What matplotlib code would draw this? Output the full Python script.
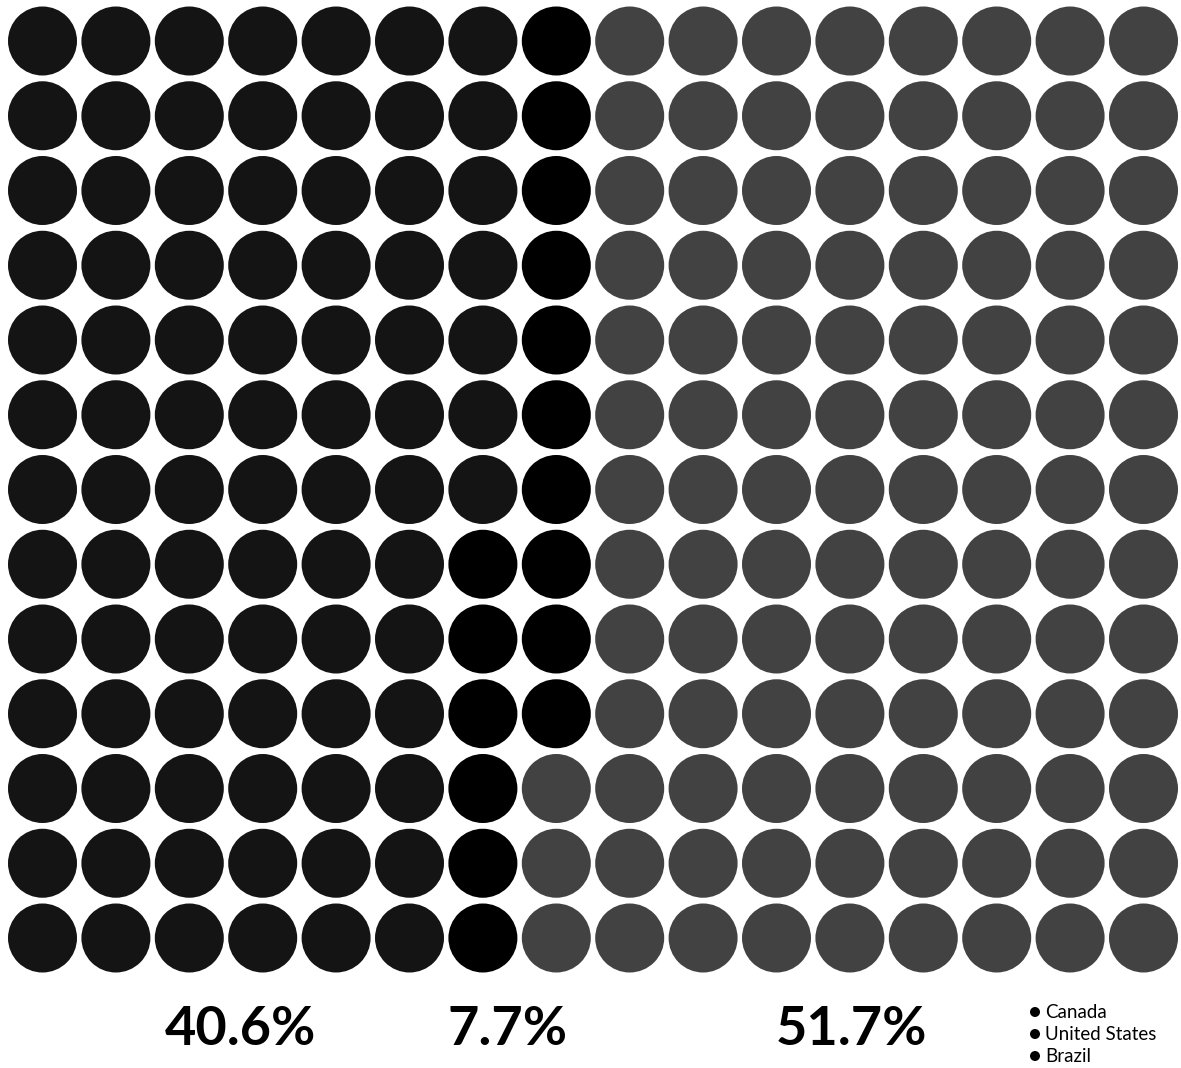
import matplotlib
matplotlib.use("Agg")
import matplotlib.pyplot as plt
from matplotlib.patches import Circle

# data
countries = ["Canada", "United States", "Brazil"]
shares = ["40.6%", "7.7%", "51.7%"]
dot_counts = [85, 16, 107]
colors = ["#141414", "#000000", "#424242"]

n_rows = 13
n_cols = 16

W, H = 1181, 1068
fig = plt.figure(figsize=(W / 100, H / 100), dpi=100)
ax = fig.add_axes([0, 0, 1, 1])
ax.set_xlim(0, W)
ax.set_ylim(H, 0)
ax.axis("off")

# grid layout (pixels)
x0, dx = 42.5, 73.4
y0, dy = 41.0, 74.75
r = 34.5

# fill column by column, top to bottom
fills = []
for c, n in zip(colors, dot_counts):
    fills += [c] * n

for i, c in enumerate(fills):
    col = i // n_rows
    row = i % n_rows
    ax.add_patch(Circle((x0 + col * dx, y0 + row * dy), r, color=c, lw=0))

# big percentages
label_x = [240, 508, 851]
for x, s in zip(label_x, shares):
    ax.text(x, 1045, s, ha="center", va="baseline", fontsize=39,
            fontweight="bold", family="Lato", color="black")

# legend
for k, name in enumerate(countries):
    y = 1012 + k * 22
    ax.add_patch(Circle((1035, y), 5, color="black", lw=0))
    ax.text(1045, y, name, ha="left", va="center", fontsize=13.5,
            family="Lato", color="black")

fig.savefig("out.png", dpi=100, facecolor="white")
